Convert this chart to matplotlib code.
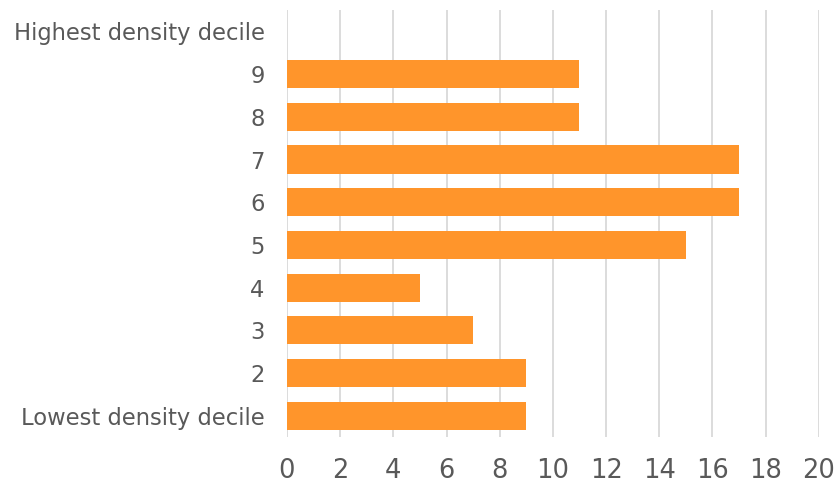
import matplotlib
matplotlib.use("Agg")
import matplotlib.pyplot as plt

categories = ["Lowest density decile", "2", "3", "4", "5", "6", "7", "8", "9", "Highest density decile"]
values = [9, 9, 7, 5, 15, 17, 17, 11, 11, 0]
xticks = [0, 2, 4, 6, 8, 10, 12, 14, 16, 18, 20]

plt.rcParams['font.family'] = ['DejaVu Sans']
text_color = "#595959"

fig = plt.figure(figsize=(8.39, 4.83), dpi=100)
ax = fig.add_axes([0.342, 0.095, 0.634, 0.884])

y = range(len(categories))
ax.barh(list(y), values, height=0.66, color="#FF952B", zorder=3)

ax.set_xlim(0, 20)
ax.set_ylim(-0.5, len(categories) - 0.5)
ax.set_xticks(xticks)
ax.set_xticklabels([str(t) for t in xticks], fontsize=18.5, color=text_color)
ax.set_yticks(list(y))
ax.set_yticklabels(categories, fontsize=16.3, color=text_color)
ax.tick_params(axis='x', length=0, pad=15)
ax.tick_params(axis='y', length=0, pad=16)
ax.grid(axis='x', color="#D9D9D9", linewidth=1.3, zorder=0)
ax.set_axisbelow(True)
for s in ax.spines.values():
    s.set_visible(False)

fig.savefig("out.png", dpi=100)
